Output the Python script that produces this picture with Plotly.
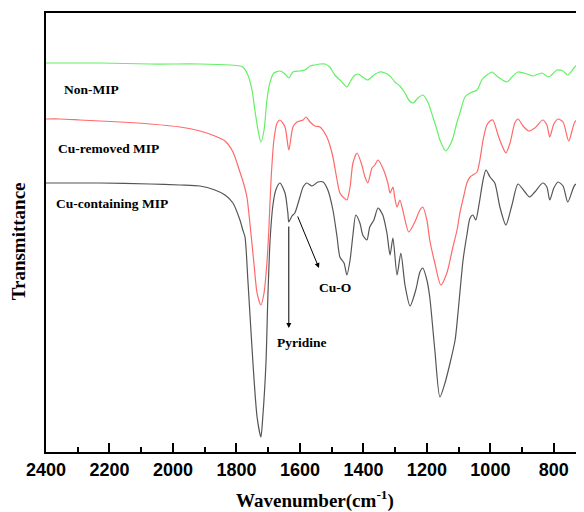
import plotly.graph_objects as go

# Wavenumber (cm-1) and transmittance (arbitrary, offset units)
nonmip_wn = [2400, 2230, 2072, 1915, 1820, 1789, 1780, 1764, 1751, 1742, 1732, 1723, 1713, 1704, 1694, 1682,
             1663, 1647, 1635, 1622, 1600, 1584, 1568, 1553, 1537, 1521, 1506, 1490, 1474, 1465, 1452, 1442,
             1430, 1417, 1402, 1386, 1367, 1348, 1332, 1316, 1301, 1285, 1269, 1257, 1244, 1228, 1213, 1197,
             1181, 1168, 1159, 1140, 1127, 1118, 1105, 1096, 1080, 1064, 1042, 1027, 1011, 995, 976, 948,
             932, 913, 885, 866, 838, 816, 790, 771, 756, 734, 718, 705]
nonmip_t = [389, 389, 388, 388, 387, 386, 385, 377, 362, 342, 322, 310, 322, 352, 370, 379,
            381, 378, 374, 380, 381, 382, 386, 387, 388, 388, 385, 377, 372, 369, 365, 370,
            376, 378, 375, 372, 377, 380, 379, 376, 370, 366, 359, 352, 349, 354, 357, 350,
            335, 322, 312, 301, 307, 314, 330, 339, 355, 359, 362, 372, 377, 380, 375, 370,
            375, 380, 378, 376, 379, 375, 382, 381, 377, 385, 389, 391]

removed_wn = [2400, 2356, 2293, 2230, 2167, 2072, 1978, 1915, 1868, 1836, 1811, 1789, 1776, 1767, 1757, 1745,
              1735, 1723, 1713, 1704, 1698, 1691, 1682, 1672, 1663, 1647, 1635, 1622, 1609, 1590, 1581, 1568,
              1553, 1537, 1515, 1506, 1496, 1483, 1474, 1461, 1452, 1442, 1433, 1420, 1405, 1395, 1386, 1373,
              1364, 1354, 1339, 1323, 1316, 1307, 1301, 1294, 1285, 1276, 1257, 1238, 1222, 1213, 1200, 1191,
              1175, 1156, 1137, 1118, 1105, 1096, 1083, 1074, 1064, 1055, 1042, 1033, 1023, 1011, 1001, 992,
              976, 964, 951, 938, 923, 913, 897, 879, 860, 835, 822, 813, 800, 787, 771, 753, 734, 718, 705]
removed_t = [333, 333, 332, 331, 330, 328, 325, 321, 316, 311, 300, 280, 267, 255, 227, 189,
             159, 147, 159, 189, 222, 272, 312, 329, 332, 325, 302, 325, 330, 332, 335, 330,
             326, 325, 315, 307, 295, 272, 259, 254, 252, 265, 289, 299, 287, 275, 269, 284,
             287, 292, 284, 269, 259, 265, 254, 245, 252, 242, 220, 230, 242, 245, 232, 212,
             189, 167, 179, 205, 222, 239, 257, 269, 275, 277, 280, 292, 312, 327, 331, 332,
             317, 307, 299, 309, 329, 333, 326, 321, 324, 332, 327, 315, 328, 333, 330, 311, 330, 334, 334]

containing_wn = [2400, 2230, 2072, 1978, 1915, 1868, 1836, 1811, 1789, 1780, 1773, 1764, 1748, 1735, 1723, 1717,
                 1707, 1701, 1694, 1685, 1676, 1663, 1647, 1638, 1635, 1625, 1616, 1600, 1590, 1578, 1562, 1543,
                 1527, 1512, 1496, 1483, 1474, 1461, 1452, 1442, 1433, 1424, 1411, 1402, 1389, 1380, 1367, 1354,
                 1339, 1326, 1316, 1307, 1294, 1282, 1269, 1253, 1235, 1222, 1213, 1200, 1191, 1175, 1159, 1143,
                 1127, 1111, 1102, 1086, 1074, 1064, 1055, 1046, 1036, 1023, 1014, 1001, 986, 970, 951, 932,
                 913, 891, 876, 860, 835, 822, 813, 800, 787, 771, 756, 734, 718, 705]
containing_t = [269, 269, 268, 267, 266, 262, 257, 249, 232, 222, 215, 172, 89, 35, 15, 35,
                89, 155, 212, 247, 262, 269, 259, 239, 230, 236, 239, 255, 265, 269, 266, 270,
                270, 262, 242, 215, 195, 189, 177, 192, 217, 237, 229, 217, 212, 225, 232, 244,
                237, 219, 197, 214, 177, 199, 167, 146, 162, 180, 184, 172, 155, 102, 55, 69,
                89, 112, 139, 192, 217, 234, 237, 232, 247, 272, 282, 275, 269, 245, 227, 247,
                268, 260, 255, 260, 269, 265, 252, 264, 270, 266, 250, 267, 269, 270]

series = [
    ("Non-MIP", nonmip_wn, nonmip_t, "rgb(100,240,100)"),
    ("Cu-removed MIP", removed_wn, removed_t, "rgb(255,105,105)"),
    ("Cu-containing MIP", containing_wn, containing_t, "rgb(85,85,85)"),
]

fig = go.Figure()
for name, wn, t, col in series:
    fig.add_trace(go.Scatter(x=wn, y=t, mode="lines", name=name,
                             line=dict(color=col, width=1.2, shape="spline", smoothing=0.7),
                             showlegend=False))

serif = "Liberation Serif, Times New Roman, serif"
labels = [("Non-MIP", 2350, 363), ("Cu-removed MIP", 2369, 304), ("Cu-containing MIP", 2375, 249)]
for txt, x, y in labels:
    fig.add_annotation(x=x, y=y, text=txt, showarrow=False, xanchor="left", yanchor="middle",
                       font=dict(family=serif, size=13.5, color="black", weight="bold"))

# Pyridine arrow
fig.add_annotation(x=1635, y=124, ax=1635, ay=227, axref="x", ayref="y", xref="x", yref="y",
                   text="", showarrow=True, arrowhead=2, arrowsize=1, arrowwidth=1, arrowcolor="black")
fig.add_annotation(x=1594, y=110, text="Pyridine", showarrow=False, xanchor="center", yanchor="middle",
                   font=dict(family=serif, size=13.5, color="black", weight="bold"))
# Cu-O arrow
fig.add_annotation(x=1540, y=184, ax=1609, ay=237, axref="x", ayref="y", xref="x", yref="y",
                   text="", showarrow=True, arrowhead=2, arrowsize=1, arrowwidth=1, arrowcolor="black")
fig.add_annotation(x=1490, y=165, text="Cu-O", showarrow=False, xanchor="center", yanchor="middle",
                   font=dict(family=serif, size=13.5, color="black", weight="bold"))

# Axis titles
fig.add_annotation(x=0.5, y=-0.109, xref="paper", yref="paper", xanchor="center", yanchor="middle",
                   text="Wavenumber(cm<sup>-1</sup>)", showarrow=False,
                   font=dict(family=serif, size=19, color="black", weight="bold"))
fig.add_annotation(x=-0.052, y=0.48, xref="paper", yref="paper", xanchor="center", yanchor="middle",
                   text="Transmittance", showarrow=False, textangle=-90,
                   font=dict(family=serif, size=19, color="black", weight="bold"))

# Page body has an 8px margin: figure is 576x504 so that the plot lands where the reference has it
fig.update_layout(
    width=576, height=504,
    margin=dict(l=38, r=0, t=5, b=60, autoexpand=False),
    plot_bgcolor="white", paper_bgcolor="white",
)
fig.update_xaxes(range=[2400, 705], showgrid=False, zeroline=False, automargin=False,
                 showline=True, linecolor="black", linewidth=2, mirror=True,
                 ticks="inside", ticklen=9, tickwidth=1.5, tickcolor="black",
                 tick0=800, dtick=200,
                 minor=dict(ticks="inside", ticklen=5, tickwidth=1.5, dtick=100, tickcolor="black"),
                 tickfont=dict(family="Liberation Sans, Arial", size=18, color="black", weight="bold"))
fig.update_yaxes(range=[0, 439], showgrid=False, zeroline=False, automargin=False,
                 showline=True, linecolor="black", linewidth=2,
                 showticklabels=False, ticks="")

fig.write_html("out.html")
